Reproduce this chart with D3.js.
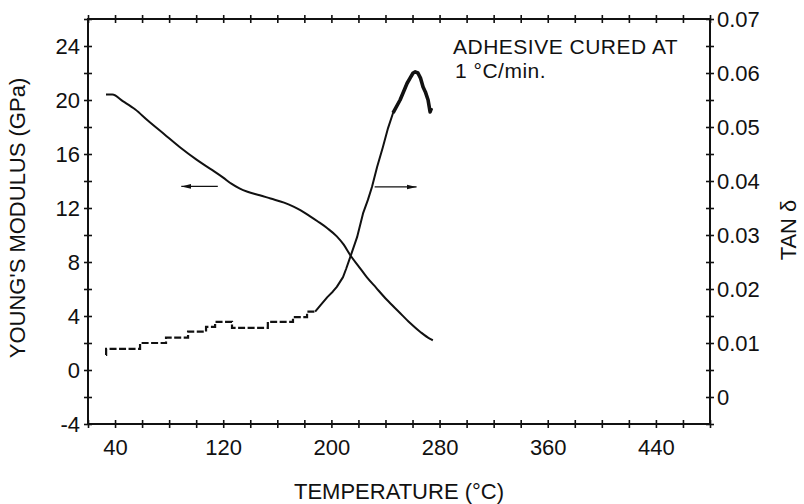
<!DOCTYPE html>
<html>
<head>
<meta charset="utf-8">
<script src="https://cdn.jsdelivr.net/npm/d3@7"></script>
<style>
  html, body { margin: 0; padding: 0; background: #fff; }
  svg { display: block; }
  text { font-family: "Liberation Sans", Arial, Helvetica, sans-serif; fill: #111; }
</style>
</head>
<body>
<svg id="chart" width="804" height="504"></svg>
<script>
// Young's modulus (GPa) against temperature (°C)
const modulusTemp  = [33.3, 38, 46, 55, 64, 76, 88, 100, 112, 120, 126, 132, 138, 147, 155, 165, 172, 177, 184, 190, 197, 204, 209, 214, 220, 226, 233, 241, 250, 258, 266, 273, 275];
const modulusValue = [20.4, 20.4, 19.9, 19.3, 18.5, 17.5, 16.5, 15.6, 14.8, 14.25, 13.8, 13.45, 13.2, 12.95, 12.7, 12.4, 12.1, 11.85, 11.4, 11.0, 10.5, 9.9, 9.3, 8.5, 7.7, 6.9, 6.1, 5.2, 4.3, 3.5, 2.8, 2.3, 2.2];

// tan δ, stepped low-temperature part of the trace
const tanStepTemp  = [33.3, 33.4, 58.5, 77.7, 94, 107.3, 114, 126.5, 153, 171.6, 182, 188];
const tanStepValue = [0.0078, 0.0089, 0.0100, 0.0110, 0.0121, 0.0130, 0.0139, 0.0128, 0.0139, 0.0148, 0.0158, 0.0158];

// tan δ, transition and peak
const tanRiseTemp  = [188, 192, 197, 201, 204, 208.6, 211, 213.8, 219, 223.4, 227, 230, 233.8, 238, 241.9, 245.6, 250.8, 256, 258.5, 260.4, 262, 264, 266, 267.8, 269.5, 271.5, 273, 274];
const tanRiseValue = [0.0158, 0.0170, 0.0185, 0.0195, 0.0204, 0.0222, 0.0238, 0.0258, 0.0296, 0.0340, 0.0365, 0.0389, 0.0426, 0.0462, 0.0498, 0.0526, 0.0550, 0.0581, 0.0592, 0.0600, 0.0602, 0.0600, 0.0590, 0.0574, 0.0565, 0.0550, 0.0528, 0.0535];

// axis ticks and labels
const xTickLabels     = [40, 120, 200, 280, 360, 440];
const leftTickLabels  = [-4, 0, 4, 8, 12, 16, 20, 24];
const rightTickValues = [0, 0.01, 0.02, 0.03, 0.04, 0.05, 0.06, 0.07];
const rightTickLabels = ["0", "0.01", "0.02", "0.03", "0.04", "0.05", "0.06", "0.07"];

// arrows pointing each curve to its axis
const arrowModulus = { from: 116, to: 89, value: 13.6 };
const arrowTan     = { from: 232, to: 263, value: 0.0389 };

const svg = d3.select("#chart");
const plot = { left: 88, right: 710, top: 19, bottom: 424 };

const x  = d3.scaleLinear().domain([20, 480]).range([plot.left, plot.right]);
const yL = d3.scaleLinear().domain([-4, 26]).range([plot.bottom, plot.top]);
const yR = d3.scaleLinear().domain([-0.005, 0.07]).range([plot.bottom, plot.top]);

const FONT = 22;
const TK = 4; // half-length of crossing tick marks

// minor + major tick positions
const xTicks  = d3.range(20, 481, 20);
const yLTicks = d3.range(-4, 27, 2);
const yRTicks = d3.range(-1, 15).map(i => i * 0.005);

function crossTicks(g) {
  g.select(".domain").remove();
}

// bottom axis
const gB = svg.append("g").attr("transform", `translate(0,${plot.bottom})`)
  .call(d3.axisBottom(x).tickValues(xTicks).tickSize(TK)
    .tickFormat(d => xTickLabels.includes(d) ? d : ""))
  .call(crossTicks);
gB.selectAll(".tick line").attr("y1", -TK).attr("y2", TK).attr("stroke", "#111").attr("stroke-width", 1.6);
gB.selectAll(".tick text").attr("y", 31).attr("dy", 0).attr("font-size", FONT).attr("font-family", null);

// top axis (ticks only)
const gT = svg.append("g").attr("transform", `translate(0,${plot.top})`)
  .call(d3.axisTop(x).tickValues(xTicks).tickSize(TK).tickFormat(""))
  .call(crossTicks);
gT.selectAll(".tick line").attr("y1", -TK).attr("y2", TK).attr("stroke", "#111").attr("stroke-width", 1.6);

// left axis
const gL = svg.append("g").attr("transform", `translate(${plot.left},0)`)
  .call(d3.axisLeft(yL).tickValues(yLTicks).tickSize(TK)
    .tickFormat(d => leftTickLabels.includes(d) ? d : ""))
  .call(crossTicks);
gL.selectAll(".tick line").attr("x1", -TK).attr("x2", TK).attr("stroke", "#111").attr("stroke-width", 1.6);
gL.selectAll(".tick text").attr("x", -8).attr("font-size", FONT).attr("font-family", null);

// right axis
const gR = svg.append("g").attr("transform", `translate(${plot.right},0)`)
  .call(d3.axisRight(yR).tickValues(yRTicks).tickSize(TK)
    .tickFormat(d => {
      const i = rightTickValues.findIndex(v => Math.abs(v - d) < 1e-9);
      return i >= 0 ? rightTickLabels[i] : "";
    }))
  .call(crossTicks);
gR.selectAll(".tick line").attr("x1", -TK).attr("x2", TK).attr("stroke", "#111").attr("stroke-width", 1.6);
gR.selectAll(".tick text").attr("x", 7).attr("font-size", FONT).attr("font-family", null);

// frame
svg.append("rect")
  .attr("x", plot.left).attr("y", plot.top)
  .attr("width", plot.right - plot.left).attr("height", plot.bottom - plot.top)
  .attr("fill", "none").attr("stroke", "#111").attr("stroke-width", 2);

// modulus curve
const modulusData = modulusTemp.map((t, i) => [t, modulusValue[i]]);
svg.append("path")
  .datum(modulusData)
  .attr("fill", "none").attr("stroke", "#111").attr("stroke-width", 2)
  .attr("stroke-linejoin", "round")
  .attr("d", d3.line().x(d => x(d[0])).y(d => yL(d[1])).curve(d3.curveMonotoneX));

// tan δ stepped part
const tanStepData = tanStepTemp.map((t, i) => [t, tanStepValue[i]]);
svg.append("path")
  .datum(tanStepData)
  .attr("fill", "none").attr("stroke", "#111").attr("stroke-width", 2.2)
  .attr("stroke-dasharray", "7,2.5")
  .attr("d", d3.line().x(d => x(d[0])).y(d => yR(d[1])).curve(d3.curveStepAfter));

// tan δ rise and peak
const tanRiseData = tanRiseTemp.map((t, i) => [t, tanRiseValue[i]]);
const tanLine = d3.line().x(d => x(d[0])).y(d => yR(d[1])).curve(d3.curveLinear);
svg.append("path")
  .datum(tanRiseData)
  .attr("fill", "none").attr("stroke", "#111").attr("stroke-width", 2)
  .attr("stroke-linejoin", "round")
  .attr("d", tanLine);
svg.append("path")
  .datum(tanRiseData.filter(d => d[0] >= 244))
  .attr("fill", "none").attr("stroke", "#111").attr("stroke-width", 3.6)
  .attr("stroke-linejoin", "round")
  .attr("d", tanLine);

// arrows
const defs = svg.append("defs");
defs.append("marker")
  .attr("id", "head").attr("viewBox", "0 0 10 6")
  .attr("refX", 10).attr("refY", 3)
  .attr("markerWidth", 10).attr("markerHeight", 6)
  .attr("markerUnits", "userSpaceOnUse").attr("orient", "auto")
  .append("path").attr("d", "M0,0.6 L10,3 L0,5.4 Z").attr("fill", "#111");

svg.append("line")
  .attr("x1", x(arrowModulus.from)).attr("x2", x(arrowModulus.to))
  .attr("y1", yL(arrowModulus.value)).attr("y2", yL(arrowModulus.value))
  .attr("stroke", "#111").attr("stroke-width", 1.3).attr("marker-end", "url(#head)");
svg.append("line")
  .attr("x1", x(arrowTan.from)).attr("x2", x(arrowTan.to))
  .attr("y1", yR(arrowTan.value)).attr("y2", yR(arrowTan.value))
  .attr("stroke", "#111").attr("stroke-width", 1.3).attr("marker-end", "url(#head)");

// annotation
svg.append("text").attr("x", 453).attr("y", 54).attr("font-size", 21).attr("letter-spacing", 0.5).text("ADHESIVE CURED AT");
svg.append("text").attr("x", 455).attr("y", 78).attr("font-size", 21).attr("letter-spacing", 0.5).text("1 °C/min.");

// axis titles
svg.append("text")
  .attr("x", 399).attr("y", 499).attr("text-anchor", "middle").attr("font-size", FONT)
  .text("TEMPERATURE (°C)");
svg.append("text")
  .attr("transform", "translate(25,218) rotate(-90)").attr("text-anchor", "middle").attr("font-size", FONT)
  .text("YOUNG'S MODULUS (GPa)");
svg.append("text")
  .attr("transform", "translate(796,230) rotate(-90)").attr("text-anchor", "middle").attr("font-size", FONT)
  .text("TAN δ");
</script>
</body>
</html>
